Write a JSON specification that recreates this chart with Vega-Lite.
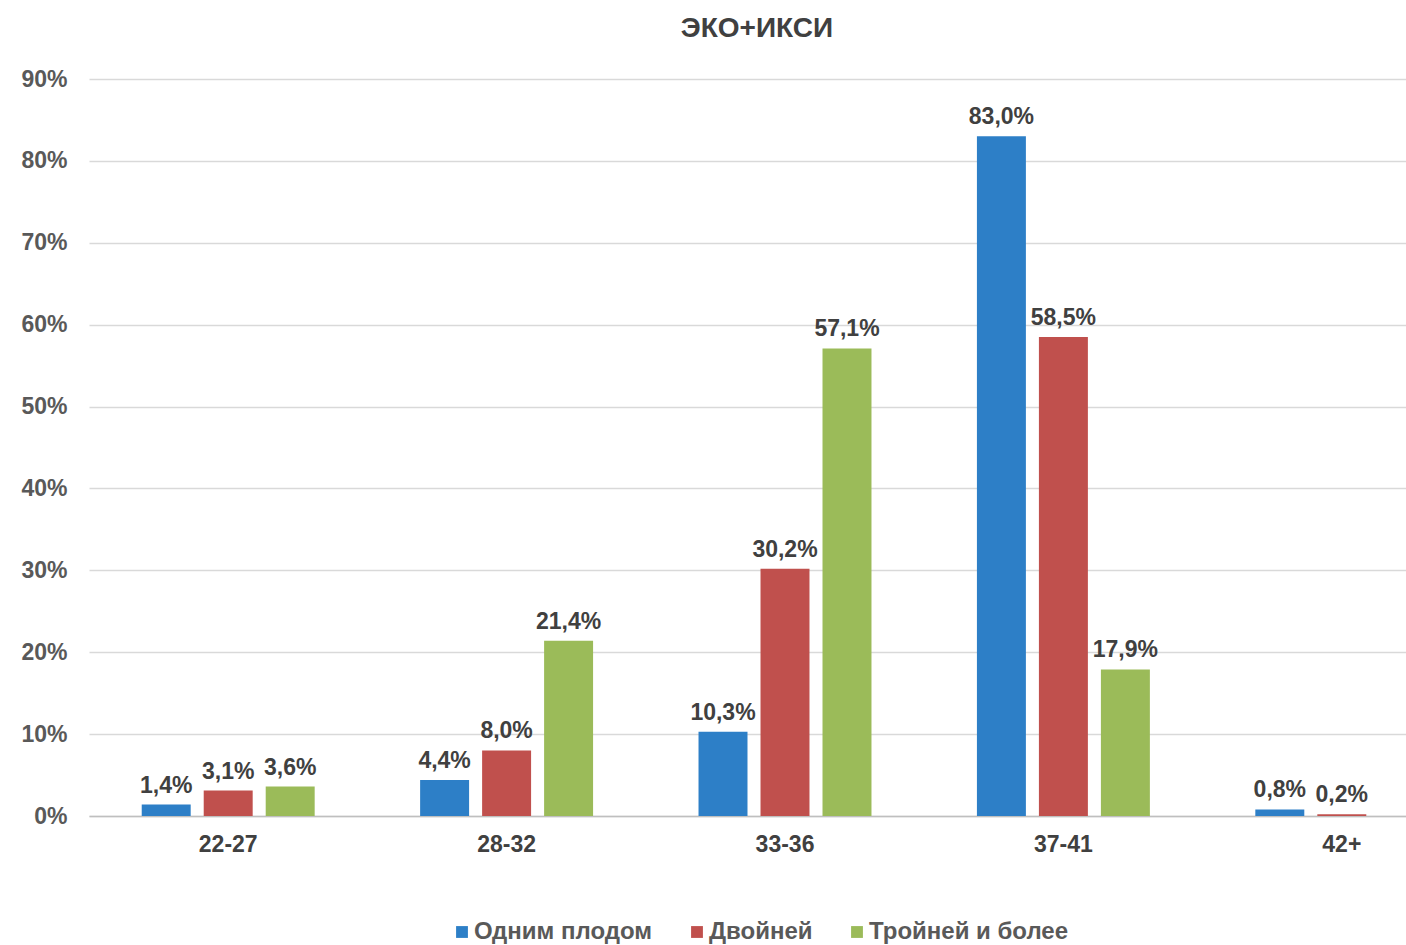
{
  "$schema": "https://vega.github.io/schema/vega-lite/v6.json",
  "autosize": {"type": "none"},
  "padding": {"left": 89, "top": 79, "right": 0, "bottom": 129},
  "width": 1392,
  "height": 737,
  "background": "#ffffff",
  "config": {
    "font": "Liberation Sans",
    "locale": {"number": {"decimal": ",", "thousands": " ", "grouping": [3], "currency": ["", " ₽"]}},
    "view": {"stroke": null}
  },
  "title": {
    "text": "ЭКО+ИКСИ",
    "fontSize": 28,
    "fontWeight": "bold",
    "color": "#404040",
    "anchor": "middle",
    "dx": -28,
    "offset": 25
  },
  "data": {
    "values": [
      {"age": "22-27", "series": "Одним плодом", "value": 0.014},
      {"age": "22-27", "series": "Двойней", "value": 0.031},
      {"age": "22-27", "series": "Тройней и более", "value": 0.036},
      {"age": "28-32", "series": "Одним плодом", "value": 0.044},
      {"age": "28-32", "series": "Двойней", "value": 0.080},
      {"age": "28-32", "series": "Тройней и более", "value": 0.214},
      {"age": "33-36", "series": "Одним плодом", "value": 0.103},
      {"age": "33-36", "series": "Двойней", "value": 0.302},
      {"age": "33-36", "series": "Тройней и более", "value": 0.571},
      {"age": "37-41", "series": "Одним плодом", "value": 0.830},
      {"age": "37-41", "series": "Двойней", "value": 0.585},
      {"age": "37-41", "series": "Тройней и более", "value": 0.179},
      {"age": "42+", "series": "Одним плодом", "value": 0.008},
      {"age": "42+", "series": "Двойней", "value": 0.002}
    ]
  },
  "encoding": {
    "x": {
      "field": "age",
      "type": "nominal",
      "sort": ["22-27", "28-32", "33-36", "37-41", "42+"],
      "scale": {"paddingInner": 0.332, "paddingOuter": 0.166},
      "axis": {
        "title": null,
        "labelAngle": 0,
        "labelFontSize": 23,
        "labelFontWeight": "bold",
        "labelColor": "#404040",
        "labelPadding": 17,
        "ticks": false,
        "domainColor": "#bfbfbf",
        "domainWidth": 1.5,
        "grid": false
      }
    },
    "xOffset": {
      "field": "series",
      "type": "nominal",
      "sort": ["Одним плодом", "Двойней", "Тройней и более"],
      "scale": {"paddingInner": 0.21, "paddingOuter": 0.105}
    },
    "y": {
      "field": "value",
      "type": "quantitative",
      "scale": {"domain": [0, 0.9], "nice": false},
      "axis": {
        "title": null,
        "format": ".0%",
        "values": [0, 0.1, 0.2, 0.3, 0.4, 0.5, 0.6, 0.7, 0.8, 0.9],
        "labelFontSize": 23,
        "labelFontWeight": "bold",
        "labelColor": "#595959",
        "labelPadding": 22,
        "ticks": false,
        "domain": false,
        "gridColor": "#d9d9d9",
        "gridWidth": 1.5
      }
    }
  },
  "layer": [
    {
      "mark": {"type": "bar"},
      "encoding": {
        "color": {
          "field": "series",
          "type": "nominal",
          "sort": ["Одним плодом", "Двойней", "Тройней и более"],
          "scale": {
            "domain": ["Одним плодом", "Двойней", "Тройней и более"],
            "range": ["#2d7fc7", "#c0504d", "#9bbb59"]
          },
          "legend": {
            "title": null,
            "orient": "none",
            "direction": "horizontal",
            "legendX": 361,
            "legendY": 841,
            "symbolType": "square",
            "symbolSize": 140,
            "symbolStrokeWidth": 0,
            "labelFontSize": 24,
            "labelFontWeight": "bold",
            "labelColor": "#595959",
            "labelOffset": 0,
            "labelLimit": 500,
            "columnPadding": 32
          }
        }
      }
    },
    {
      "mark": {
        "type": "text",
        "baseline": "bottom",
        "dy": -7,
        "fontSize": 23,
        "fontWeight": "bold",
        "color": "#404040"
      },
      "encoding": {
        "text": {"field": "value", "type": "quantitative", "format": ".1%"}
      }
    }
  ]
}
